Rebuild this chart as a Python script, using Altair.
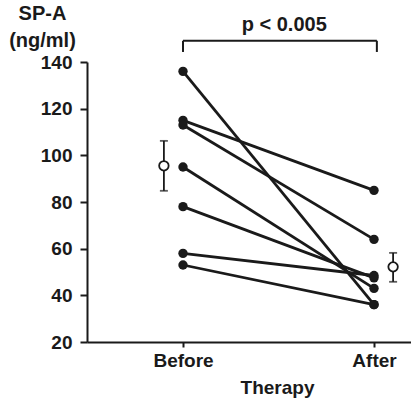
import altair as alt
import pandas as pd

# ---- data ----
phases = ["Before", "After"]
before_vals = [136, 115, 113, 95, 78, 58, 53]
after_vals = [36, 85, 64, 43, 47.5, 48.5, 36]
mean_vals = [95.5, 52.2]
mean_lo = [84.8, 45.8]
mean_hi = [106.2, 58.2]
mean_x = [-0.1, 1.1]
p_text = "p < 0.005"
bracket_x = [0, 1.015]
bracket_top = 149.1
bracket_bottom = 144.3
p_pos = [0.53, 153.4]

rows = []
for i, (b, a) in enumerate(zip(before_vals, after_vals)):
    rows.append({"subject": i, "x": 0, "value": b})
    rows.append({"subject": i, "x": 1, "value": a})
df = pd.DataFrame(rows)
mdf = pd.DataFrame({"x": mean_x, "m": mean_vals, "lo": mean_lo, "hi": mean_hi})
bdf_h = pd.DataFrame({"x": [bracket_x[0]], "x2": [bracket_x[1]], "y": [bracket_top]})
bdf_v = pd.DataFrame({"x": bracket_x, "y": [bracket_bottom] * 2, "y2": [bracket_top] * 2})
tdf = pd.DataFrame({"x": [p_pos[0]], "y": [p_pos[1]], "t": [p_text]})

FONT = "Liberation Sans"
INK = "#1a1a1a"

xscale = alt.Scale(domain=[-0.5026, 1.1937], nice=False, zero=False)
yscale = alt.Scale(domain=[20, 140], nice=False, zero=False)

xaxis = alt.Axis(
    values=[0, 1],
    labelExpr="datum.value == 0 ? 'Before' : 'After'",
    grid=False, tickSize=5, tickWidth=2, tickColor=INK,
    domainColor=INK, domainWidth=2,
    labelFont=FONT, labelFontSize=19, labelFontWeight="bold", labelColor=INK,
    labelPadding=4, labelFlush=False,
    title="Therapy", titleFont=FONT, titleFontSize=19, titleFontWeight="bold",
    titleColor=INK, titleX=190, titleY=51, titleAlign="center",
    titleBaseline="alphabetic",
)
yaxis = alt.Axis(
    values=list(range(20, 141, 10)),
    labelExpr="datum.value % 20 == 0 ? datum.label : ''",
    grid=False,
    tickSize={"condition": {"test": "datum.value % 20 === 0", "value": 7}, "value": 3},
    tickWidth=2, tickColor=INK, domainColor=INK, domainWidth=2,
    labelFont=FONT, labelFontSize=19, labelFontWeight="bold", labelColor=INK,
    labelPadding=8,
    title=["SP-A", "(ng/ml)"], titleFont=FONT, titleFontSize=20, titleFontWeight="bold",
    titleColor=INK, titleAngle=0, titleAlign="center", titleBaseline="top",
    titleX=-45, titleY=-59, titleLineHeight=27,
)

lines = alt.Chart(df).mark_line(color=INK, strokeWidth=2.8).encode(
    x=alt.X("x:Q", scale=xscale, axis=xaxis),
    y=alt.Y("value:Q", scale=yscale, axis=yaxis),
    detail="subject:N",
)
pts = alt.Chart(df).mark_circle(color=INK, size=88, opacity=1).encode(
    x=alt.X("x:Q", scale=xscale), y=alt.Y("value:Q", scale=yscale)
)
err = alt.Chart(mdf).mark_rule(color=INK, strokeWidth=1.8).encode(
    x=alt.X("x:Q", scale=xscale), y=alt.Y("lo:Q", scale=yscale), y2="hi:Q"
)
cap_lo = alt.Chart(mdf).mark_tick(color=INK, orient="horizontal", size=8, thickness=1.8).encode(
    x=alt.X("x:Q", scale=xscale), y=alt.Y("lo:Q", scale=yscale)
)
cap_hi = alt.Chart(mdf).mark_tick(color=INK, orient="horizontal", size=8, thickness=1.8).encode(
    x=alt.X("x:Q", scale=xscale), y=alt.Y("hi:Q", scale=yscale)
)
mean_pt = alt.Chart(mdf).mark_point(
    shape="circle", filled=True, fill="white", stroke=INK, strokeWidth=1.8, size=90, opacity=1
).encode(x=alt.X("x:Q", scale=xscale), y=alt.Y("m:Q", scale=yscale))

br_h = alt.Chart(bdf_h).mark_rule(color=INK, strokeWidth=2).encode(
    x=alt.X("x:Q", scale=xscale), x2="x2:Q", y=alt.Y("y:Q", scale=yscale)
)
br_v = alt.Chart(bdf_v).mark_rule(color=INK, strokeWidth=2).encode(
    x=alt.X("x:Q", scale=xscale), y=alt.Y("y:Q", scale=yscale), y2="y2:Q"
)
ptxt = alt.Chart(tdf).mark_text(
    font=FONT, fontSize=20, fontWeight="bold", color=INK, align="center", baseline="alphabetic"
).encode(x=alt.X("x:Q", scale=xscale), y=alt.Y("y:Q", scale=yscale), text="t:N")

chart = alt.layer(lines, pts, err, cap_lo, cap_hi, mean_pt, br_h, br_v, ptxt).properties(
    width=324, height=280,
    autosize=alt.AutoSizeParams(type="none"),
    padding={"left": 87, "top": 62, "right": 0, "bottom": 60},
    background="white",
).configure_view(stroke=None)

chart.save("out.html", embed_options={"renderer": "svg", "actions": False})
